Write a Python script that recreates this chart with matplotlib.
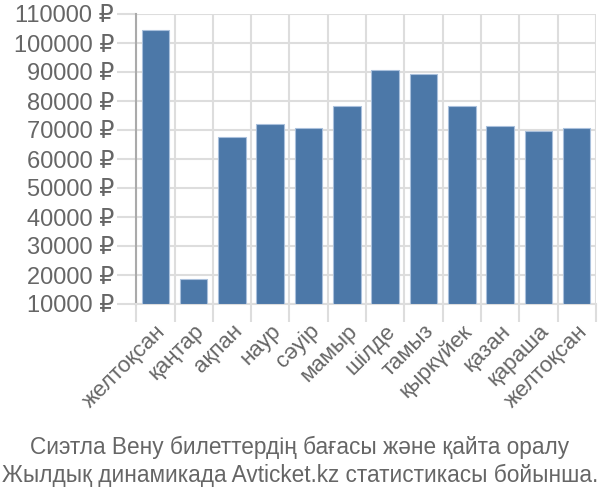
import matplotlib.pyplot as plt
import numpy as np

months = ["желтоқсан", "қаңтар", "ақпан", "наур", "сәуір", "мамыр",
          "шілде", "тамыз", "қыркүйек", "қазан", "қараша", "желтоқсан"]
prices = [104500, 18500, 67600, 72100, 70800, 78200,
          90800, 89300, 78200, 71500, 69600, 70600]
y_ticks = list(range(10000, 110001, 10000))
title_lines = ["Сиэтла Вену билеттердің бағасы және қайта оралу",
               "Жылдық динамикада Avticket.kz статистикасы бойынша."]

plt.rcParams["font.family"] = ["Liberation Sans", "DejaVu Sans"]
text_color = "#666666"
grid_color = "#dddddd"

fig = plt.figure(figsize=(6, 5), dpi=100)
ax = fig.add_axes([0.227, 0.392, 0.766, 0.58])

x = np.arange(len(months))
base = y_ticks[0]
ax.bar(x, np.array(prices) - base, bottom=base, width=0.72,
       color="#4c78a8", edgecolor="#a9c0dc", linewidth=0.8, zorder=3)

ax.set_xlim(-0.5, len(months) - 0.5)
ax.set_ylim(y_ticks[0], y_ticks[-1])
ax.set_yticks(y_ticks)
ax.set_yticklabels([f"{v} ₽" for v in y_ticks], color=text_color, fontsize=17)
ax.set_xticks(x)
ax.set_xticklabels(months, rotation=45, ha="right", rotation_mode="anchor",
                   color=text_color, fontsize=16)
ax.set_xticks(np.arange(len(months) + 1) - 0.5, minor=True)

ax.tick_params(axis="x", which="major", length=0, pad=12)
ax.tick_params(axis="x", which="minor", length=13, width=1.5, color=grid_color)
ax.tick_params(axis="y", length=14, width=1.5, color=grid_color, pad=2)

ax.grid(axis="y", color=grid_color, linewidth=1.5, zorder=0)
ax.grid(axis="x", which="minor", color=grid_color, linewidth=1.5, zorder=0)

for side in ["top", "right"]:
    ax.spines[side].set_visible(False)
ax.spines["left"].set_color("#aaaaaa")
ax.spines["left"].set_linewidth(1.5)
ax.spines["bottom"].set_color(grid_color)
ax.spines["bottom"].set_linewidth(1.5)

fig.text(0.5, 0.106, title_lines[0], ha="center", va="center",
         color=text_color, fontsize=16.3)
fig.text(0.5, 0.05, title_lines[1], ha="center", va="center",
         color=text_color, fontsize=16.3)

fig.savefig("out.png")
